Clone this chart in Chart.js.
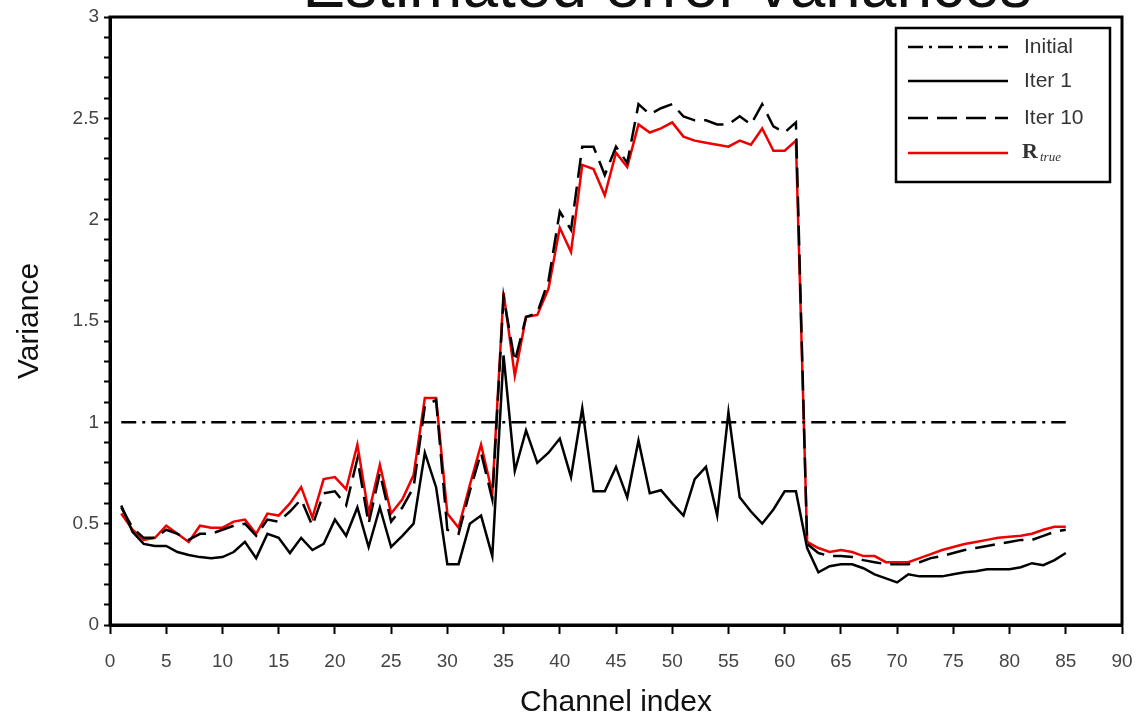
<!DOCTYPE html>
<html>
<head>
<meta charset="utf-8">
<script src="https://cdn.jsdelivr.net/npm/chart.js@4.4.1/dist/chart.umd.min.js"></script>
<style>
html, body { margin: 0; padding: 0; background: #fff; overflow: hidden; }
#myChart { display: block; }
</style>
</head>
<body>
<canvas id="myChart" width="1140" height="719"></canvas>
<script>
// channel indices 1..85
const channels = [1,2,3,4,5,6,7,8,9,10,11,12,13,14,15,16,17,18,19,20,
  21,22,23,24,25,26,27,28,29,30,31,32,33,34,35,36,37,38,39,40,
  41,42,43,44,45,46,47,48,49,50,51,52,53,54,55,56,57,58,59,60,
  61,62,63,64,65,66,67,68,69,70,71,72,73,74,75,76,77,78,79,80,
  81,82,83,84,85];

// initial guess: flat line at 1
const initialChannels = [1, 85];
const initialValues = [1, 1];

const iter1 = [0.59,0.46,0.40,0.39,0.39,0.36,0.345,0.335,0.33,0.335,
  0.36,0.41,0.33,0.45,0.43,0.355,0.43,0.37,0.40,0.52,
  0.44,0.58,0.385,0.58,0.385,0.44,0.50,0.85,0.68,0.30,
  0.30,0.50,0.54,0.34,1.33,0.76,0.96,0.80,0.85,0.92,
  0.73,1.07,0.66,0.66,0.78,0.63,0.91,0.65,0.665,0.60,
  0.54,0.72,0.78,0.54,1.05,0.63,0.56,0.50,0.57,0.66,
  0.66,0.38,0.26,0.29,0.30,0.30,0.28,0.25,0.23,0.21,
  0.25,0.24,0.24,0.24,0.25,0.26,0.265,0.275,0.275,0.275,
  0.285,0.305,0.295,0.32,0.355];

const iter10 = [0.58,0.48,0.43,0.43,0.47,0.45,0.42,0.45,0.45,0.47,
  0.49,0.50,0.44,0.52,0.51,0.56,0.62,0.49,0.65,0.66,
  0.59,0.82,0.50,0.75,0.51,0.58,0.68,1.08,1.11,0.47,
  0.45,0.66,0.85,0.62,1.62,1.30,1.52,1.54,1.70,2.04,
  1.95,2.36,2.36,2.22,2.36,2.28,2.57,2.52,2.55,2.57,
  2.51,2.49,2.49,2.47,2.47,2.51,2.47,2.57,2.46,2.43,
  2.48,0.40,0.355,0.34,0.34,0.335,0.32,0.31,0.30,0.30,
  0.30,0.31,0.33,0.34,0.355,0.37,0.38,0.39,0.40,0.41,
  0.42,0.42,0.44,0.46,0.47];

const rTrue = [0.55,0.47,0.42,0.43,0.49,0.45,0.41,0.49,0.48,0.48,
  0.51,0.52,0.45,0.55,0.54,0.60,0.68,0.53,0.72,0.73,
  0.67,0.89,0.55,0.79,0.55,0.62,0.74,1.12,1.12,0.55,
  0.48,0.69,0.89,0.65,1.64,1.23,1.52,1.53,1.66,1.96,
  1.84,2.27,2.25,2.12,2.33,2.26,2.47,2.43,2.45,2.48,
  2.41,2.39,2.38,2.37,2.36,2.39,2.37,2.45,2.34,2.34,
  2.39,0.41,0.38,0.36,0.37,0.36,0.34,0.34,0.31,0.31,
  0.31,0.33,0.35,0.37,0.385,0.40,0.41,0.42,0.43,0.435,
  0.44,0.45,0.47,0.485,0.485];

const legendLabels = ['Initial', 'Iter 1', 'Iter 10', 'R'];
const titleText = 'Estimated error variances';

function toPoints(xs, ys) {
  return xs.map((x, i) => ({ x: x, y: ys[i] }));
}

const tickFont = { family: "'Liberation Sans Narrow', 'Liberation Sans', Arial, sans-serif", size: 19 };
const titleFont = { family: "'Liberation Sans', Arial, sans-serif", size: 30, lineHeight: 1.07 };

// frame around the plot + legend box + clipped title
const framePlugin = {
  id: 'frame',
  afterDraw(chart) {
    const c = chart.ctx;
    const a = chart.chartArea;
    c.save();
    c.strokeStyle = '#000';
    c.lineWidth = 3;
    c.strokeRect(a.left, a.top, a.right - a.left, a.bottom - a.top);

    // title, mostly above the top edge
    c.fillStyle = '#111';
    c.font = "64px 'Liberation Sans', Arial, sans-serif";
    c.textAlign = 'center';
    c.textBaseline = 'alphabetic';
    c.fillText(titleText, 667, 7);

    // legend
    const bx = 896, by = 28, bw = 214, bh = 154;
    c.fillStyle = '#fff';
    c.fillRect(bx, by, bw, bh);
    c.lineWidth = 2.5;
    c.strokeStyle = '#000';
    c.setLineDash([]);
    c.strokeRect(bx, by, bw, bh);
    const rows = [47, 81, 118, 153];
    chart.data.datasets.forEach((ds, i) => {
      c.beginPath();
      c.setLineDash(ds.borderDash || []);
      c.strokeStyle = ds.borderColor;
      c.lineWidth = ds.borderWidth;
      c.moveTo(908, rows[i]);
      c.lineTo(1008, rows[i]);
      c.stroke();
      c.setLineDash([]);
      c.textAlign = 'left';
      c.textBaseline = 'middle';
      c.fillStyle = '#333';
      if (i < 3) {
        c.font = "21px 'Liberation Sans Narrow', 'Liberation Sans', Arial, sans-serif";
        c.fillText(legendLabels[i], 1024, rows[i]);
      } else {
        c.font = "bold 22px 'Liberation Serif', 'DejaVu Serif', serif";
        c.fillText(legendLabels[i], 1022, rows[i] - 1);
        c.font = "italic 13px 'Liberation Serif', 'DejaVu Serif', serif";
        c.fillText('true', 1040, rows[i] + 5);
      }
    });
    c.restore();
  }
};

const ctx = document.getElementById('myChart').getContext('2d');

const chart = new Chart(ctx, {
  type: 'line',
  data: {
    datasets: [
      {
        label: legendLabels[0],
        data: toPoints(initialChannels, initialValues),
        borderColor: '#000',
        borderWidth: 2.5,
        borderDash: [15, 6, 3, 6],
        pointRadius: 0,
        tension: 0
      },
      {
        label: legendLabels[1],
        data: toPoints(channels, iter1),
        borderColor: '#000',
        borderWidth: 2.5,
        pointRadius: 0,
        tension: 0
      },
      {
        label: legendLabels[2],
        data: toPoints(channels, iter10),
        borderColor: '#000',
        borderWidth: 2.5,
        borderDash: [20, 9],
        pointRadius: 0,
        tension: 0
      },
      {
        label: 'R true',
        data: toPoints(channels, rTrue),
        borderColor: '#ee0000',
        borderWidth: 2.5,
        pointRadius: 0,
        tension: 0
      }
    ]
  },
  options: {
    responsive: false,
    animation: false,
    layout: {
      padding: { top: 17, right: 18, bottom: 0, left: 0 }
    },
    plugins: {
      legend: { display: false },
      title: { display: false },
      tooltip: { enabled: false }
    },
    scales: {
      x: {
        type: 'linear',
        min: 0,
        max: 90,
        afterFit: function (scale) {
          scale.height = 94;
          scale.paddingLeft = 0;
          scale.paddingRight = 0;
        },
        ticks: {
          stepSize: 5,
          color: '#444',
          font: tickFont,
          padding: 16,
          maxRotation: 0,
          autoSkip: false
        },
        grid: {
          drawOnChartArea: false,
          drawTicks: true,
          tickLength: 9,
          tickWidth: 2,
          tickColor: '#000'
        },
        border: { display: true, color: '#000', width: 3 },
        title: {
          display: true,
          text: 'Channel index',
          color: '#111',
          font: titleFont,
          padding: { top: 0, bottom: 0 }
        }
      },
      y: {
        min: 0,
        max: 3,
        afterFit: function (scale) { scale.width = 110; },
        ticks: {
          stepSize: 0.1,
          autoSkip: false,
          color: '#444',
          font: tickFont,
          padding: 5,
          callback: function (v) {
            const d = v * 2;
            if (Math.abs(d - Math.round(d)) < 1e-6) {
              return String(Math.round(d) / 2);
            }
            return '';
          }
        },
        grid: {
          drawOnChartArea: false,
          drawTicks: true,
          tickLength: 6,
          tickWidth: 2,
          tickColor: '#000'
        },
        border: { display: true, color: '#000', width: 3 },
        title: {
          display: true,
          text: 'Variance',
          color: '#111',
          font: titleFont,
          padding: { top: 14, bottom: 0 }
        }
      }
    }
  },
  plugins: [framePlugin]
});
</script>
</body>
</html>
